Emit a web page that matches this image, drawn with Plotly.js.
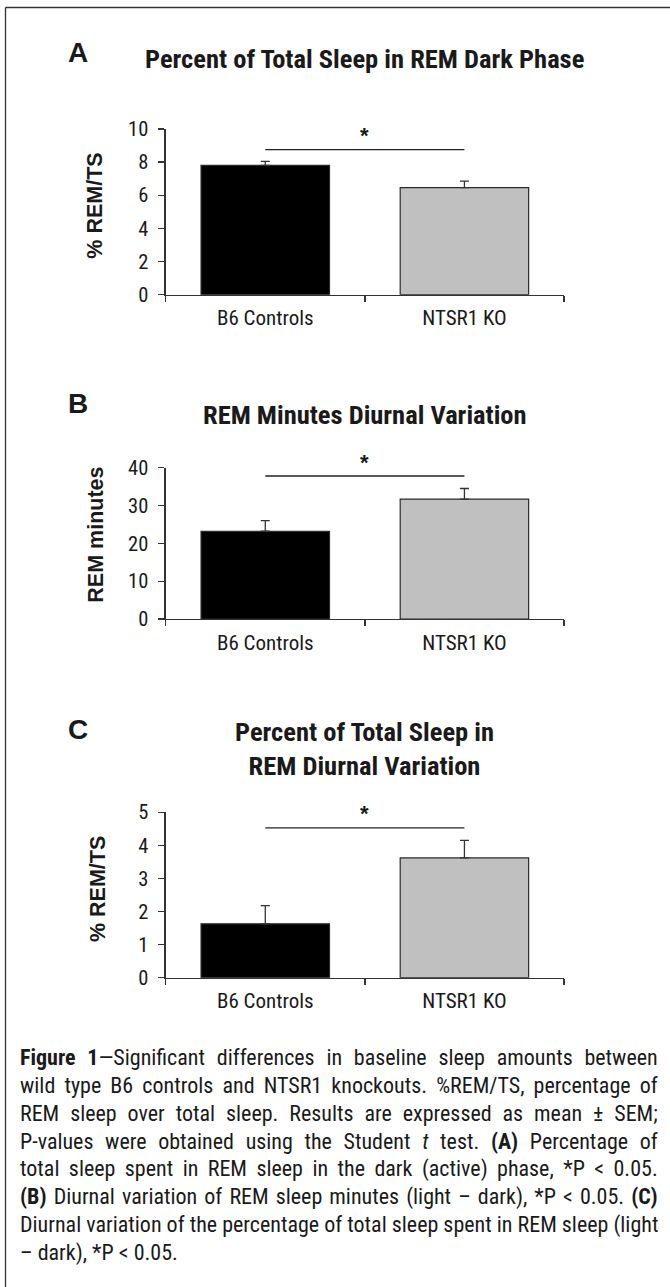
<!DOCTYPE html>
<html>
<head>
<meta charset="utf-8">
<script src="https://cdn.plot.ly/plotly-3.0.1.min.js"></script>
<style>html,body{margin:0;padding:0;background:#fff;}#chart{width:670px;height:1287px;}</style>
</head>
<body>
<div id="chart"></div>
<script>
// ---------- data ----------
const categories = ['B6 Controls', 'NTSR1 KO'];
const remDarkPct = [7.81, 6.46];
const remDarkErr = [0.24, 0.40];
const remMinDiurnal = [23.2, 31.7];
const remMinErr = [2.8, 2.8];
const remPctDiurnal = [1.63, 3.62];
const remPctErr = [0.55, 0.53];
const sigLevels = [8.75, 37.8, 4.53];
const yMax = [10, 40, 5];
const yStep = [2, 10, 1];
const panelLetters = ['A', 'B', 'C'];
const panelTitles = ['Percent of Total Sleep in REM Dark Phase', 'REM Minutes Diurnal Variation', 'Percent of Total Sleep in<br>REM Diurnal Variation'];
const yTitles = ['% REM/TS', 'REM minutes', '% REM/TS'];
const captionLines = [
  '<b>Figure 1</b>—Significant differences in baseline sleep amounts between',
  'wild type B6 controls and NTSR1 knockouts. %REM/TS, percentage of',
  'REM sleep over total sleep. Results are expressed as mean ± SEM;',
  'P-values were obtained using the Student <i>t</i> test. <b>(A)</b> Percentage of',
  'total sleep spent in REM sleep in the dark (active) phase, *P &lt; 0.05.',
  '<b>(B)</b> Diurnal variation of REM sleep minutes (light – dark), *P &lt; 0.05. <b>(C)</b>',
  'Diurnal variation of the percentage of total sleep spent in REM sleep (light',
  '– dark), *P &lt; 0.05.'
];
const seriesVals = [remDarkPct, remMinDiurnal, remPctDiurnal];
const seriesErr = [remDarkErr, remMinErr, remPctErr];

// ---------- geometry (pixels) ----------
const W = 670, H = 1287;
const px = x => x / W, py = y => 1 - y / H;
const xL = 165.7, xR = 564;
const plotTop = [129, 467.7, 812.3];
const plotBot = [294.7, 619, 977.7];
const titleY = [[58.5], [414], [732.5, 764]];
const letterY = [52, 404, 729];
const yTitleX = [95, 96, 98];
const yTitleY = [205.7, 534.7, 889];

const NARROW = '"Liberation Sans Narrow", "Arial Narrow", "Roboto Condensed", sans-serif';
const BOLD = '"Liberation Sans", Arial, sans-serif';
const TXT = '#1a1a1a';
const AX = '#333333';

const traces = [];
const layout = {
  width: W, height: H,
  margin: {l: 0, r: 0, t: 0, b: 0},
  paper_bgcolor: '#ffffff', plot_bgcolor: 'rgba(0,0,0,0)',
  showlegend: false,
  annotations: [], shapes: []
};

for (let i = 0; i < 3; i++) {
  const sfx = i === 0 ? '' : String(i + 1);
  const xa = 'x' + sfx, ya = 'y' + sfx;
  traces.push({
    type: 'bar', x: categories, y: seriesVals[i], xaxis: xa, yaxis: ya,
    width: 0.645,
    marker: {color: ['#000000', '#c0c0c0'], line: {color: '#2a2a2a', width: 1.2}},
    error_y: {type: 'data', symmetric: false, array: seriesErr[i], arrayminus: [0, 0],
      color: AX, thickness: 1.3, width: 4.5},
    hoverinfo: 'skip'
  });
  traces.push({
    type: 'scatter', mode: 'lines', x: categories, y: [sigLevels[i], sigLevels[i]],
    xaxis: xa, yaxis: ya, line: {color: '#222', width: 1.3}, hoverinfo: 'skip', cliponaxis: false
  });
  const ticks = [];
  for (let v = 0; v <= yMax[i] + 1e-9; v += yStep[i]) ticks.push(v);
  layout['xaxis' + sfx] = {
    domain: [px(xL), px(xR)], anchor: ya, type: 'category', range: [-0.5, 1.5],
    showline: true, linecolor: AX, linewidth: 1.3, ticks: 'outside', tickson: 'boundaries',
    ticklen: 6, tickwidth: 1.3, tickcolor: AX, showgrid: false, zeroline: false,
    tickfont: {family: NARROW, size: 21, color: TXT}, ticklabelstandoff: 4, fixedrange: true
  };
  layout['yaxis' + sfx] = {
    domain: [py(plotBot[i]), py(plotTop[i])], anchor: xa, range: [0, yMax[i]],
    tickvals: ticks, ticktext: ticks.map(String),
    showline: true, linecolor: AX, linewidth: 1.3, ticks: 'outside', ticklen: 6,
    tickwidth: 1.3, tickcolor: AX, showgrid: false, zeroline: false,
    tickfont: {family: NARROW, size: 20.5, color: TXT}, ticklabelstandoff: 6, fixedrange: true
  };
  // significance star
  layout.annotations.push({
    xref: xa, yref: ya, x: 0.5, y: sigLevels[i], text: '<b>*</b>', showarrow: false,
    yanchor: 'middle', yshift: 14, font: {family: BOLD, size: 22, color: TXT}
  });
  // panel title
  layout.annotations.push({
    xref: 'paper', yref: 'paper', x: px((xL + xR) / 2),
    y: py(titleY[i].reduce((a, b) => a + b, 0) / titleY[i].length),
    text: '<b>' + panelTitles[i] + '</b>', showarrow: false, xanchor: 'center', yanchor: 'middle',
    font: {family: NARROW, size: 26.5, color: TXT}
  });
  // panel letter
  layout.annotations.push({
    xref: 'paper', yref: 'paper', x: px(77.5), y: py(letterY[i]), text: '<b>' + panelLetters[i] + '</b>',
    showarrow: false, xanchor: 'center', yanchor: 'middle', font: {family: BOLD, size: 28, color: TXT}
  });
  // y title
  layout.annotations.push({
    xref: 'paper', yref: 'paper', x: px(yTitleX[i]), y: py(yTitleY[i]), text: '<b>' + yTitles[i] + '</b>',
    showarrow: false, textangle: -90, xanchor: 'center', yanchor: 'middle',
    font: {family: BOLD, size: 21.5, color: TXT}
  });
}

// caption
const capTop = 1057.5, capStep = 27.9;
const capStart = layout.annotations.length;
captionLines.forEach((t, k) => {
  layout.annotations.push({
    xref: 'paper', yref: 'paper', x: px(18), y: py(capTop + k * capStep), text: t,
    showarrow: false, xanchor: 'left', yanchor: 'middle', align: 'left',
    font: {family: NARROW, size: 22, color: TXT}
  });
});

// frame (left and top edges)
layout.shapes.push({type: 'line', xref: 'paper', yref: 'paper', x0: px(5.5), x1: px(5.5), y0: py(7.5), y1: 0, line: {color: AX, width: 1.3}});
layout.shapes.push({type: 'line', xref: 'paper', yref: 'paper', x0: px(5.5), x1: 1, y0: py(7.5), y1: py(7.5), line: {color: AX, width: 1.3}});

Plotly.newPlot('chart', traces, layout, {staticPlot: true, displayModeBar: false}).then(() => {
  // justify caption lines (all but last)
  const target = 655.7 - 18;
  for (let k = 0; k < captionLines.length - 1; k++) {
    const g = document.querySelector('g.annotation[data-index="' + (capStart + k) + '"] text.annotation-text');
    if (!g) continue;
    const len = g.getComputedTextLength();
    const spaces = (g.textContent.match(/ /g) || []).length;
    if (spaces > 0 && len < target) g.style.wordSpacing = ((target - len) / spaces) + 'px';
  }
});
</script>
</body>
</html>
